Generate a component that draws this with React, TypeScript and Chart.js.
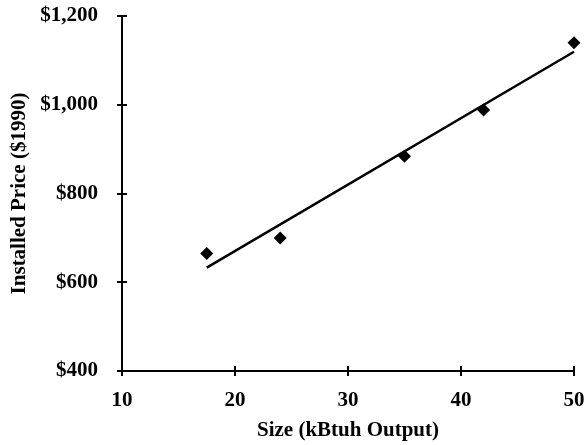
import React, { useEffect, useRef } from "react";
import { Chart, registerables } from "chart.js";

Chart.register(...registerables);

const sizes: number[] = [17.5, 24, 35, 42, 50];
const prices: number[] = [665, 700, 884, 988, 1140];
const xTicks: number[] = [10, 20, 30, 40, 50];
const yTicks: number[] = [400, 600, 800, 1000, 1200];
const xTitle = "Size (kBtuh Output)";
const yTitle = "Installed Price ($1990)";

function fitLine(xs: number[], ys: number[]) {
  const n = xs.length;
  const mx = xs.reduce((a, b) => a + b, 0) / n;
  const my = ys.reduce((a, b) => a + b, 0) / n;
  let sxy = 0, sxx = 0;
  for (let i = 0; i < n; i++) {
    sxy += (xs[i] - mx) * (ys[i] - my);
    sxx += (xs[i] - mx) * (xs[i] - mx);
  }
  const slope = sxy / sxx;
  const intercept = my - slope * mx;
  const x0 = Math.min(...xs), x1 = Math.max(...xs);
  return [
    { x: x0, y: intercept + slope * x0 },
    { x: x1, y: intercept + slope * x1 },
  ];
}

const FONT = "'Liberation Serif', 'Times New Roman', serif";

const crossTicks = {
  id: "crossTicks",
  afterDraw(chart: any) {
    const ctx = chart.ctx;
    const xs = chart.scales.x;
    const ys = chart.scales.y;
    const area = chart.chartArea;
    ctx.save();
    ctx.strokeStyle = "#000";
    ctx.lineWidth = 2;
    ctx.beginPath();
    ctx.moveTo(area.left, area.top);
    ctx.lineTo(area.left, area.bottom);
    ctx.lineTo(area.right, area.bottom);
    ctx.stroke();
    ctx.beginPath();
    for (const v of yTicks) {
      const py = Math.round(ys.getPixelForValue(v));
      ctx.moveTo(area.left - 5, py);
      ctx.lineTo(area.left + 5, py);
    }
    for (const v of xTicks) {
      const px = Math.round(xs.getPixelForValue(v));
      ctx.moveTo(px, area.bottom - 5);
      ctx.lineTo(px, area.bottom + 5);
    }
    ctx.stroke();
    ctx.restore();
  },
};

export default function App() {
  const ref = useRef<HTMLCanvasElement | null>(null);
  useEffect(() => {
    document.body.style.margin = "0";
    const canvas = ref.current;
    if (!canvas) return;
    const chart = new Chart(canvas, {
      type: "scatter",
      data: {
        datasets: [
          {
            type: "scatter",
            data: sizes.map((x, i) => ({ x, y: prices[i] })),
            pointStyle: "rectRot",
            pointRadius: 6.5,
            backgroundColor: "#000",
            borderColor: "#000",
            borderWidth: 0,
            clip: false,
          } as any,
          {
            type: "line",
            data: fitLine(sizes, prices),
            borderColor: "#000",
            borderWidth: 2.5,
            pointRadius: 0,
            fill: false,
            clip: false,
          } as any,
        ],
      },
      options: {
        animation: false,
        responsive: false,
        devicePixelRatio: 1,
        layout: { padding: { top: 16, right: 12, left: 0, bottom: 0 } },
        plugins: {
          legend: { display: false },
          tooltip: { enabled: false },
        },
        scales: {
          x: {
            type: "linear",
            min: 10,
            max: 50,
            afterBuildTicks: (s: any) => {
              s.ticks = xTicks.map((v) => ({ value: v }));
            },
            afterFit: (s: any) => {
              s.height = 74;
              s.paddingLeft = 0;
              s.paddingRight = 0;
            },
            grid: { display: false },
            border: { display: false },
            ticks: {
              color: "#000",
              padding: 9,
              font: { family: FONT, size: 21, weight: "bold" },
            },
            title: {
              display: true,
              text: xTitle,
              color: "#000",
              padding: { top: 0, bottom: 2 },
              font: { family: FONT, size: 21, weight: "bold" },
            },
          },
          y: {
            type: "linear",
            min: 400,
            max: 1200,
            afterBuildTicks: (s: any) => {
              s.ticks = yTicks.map((v) => ({ value: v }));
            },
            afterFit: (s: any) => {
              s.width = 122;
              s.paddingTop = 0;
              s.paddingBottom = 0;
            },
            grid: { display: false },
            border: { display: false },
            ticks: {
              color: "#000",
              padding: 16,
              font: { family: FONT, size: 21, weight: "bold" },
              callback: (v: any) => "$" + Number(v).toLocaleString("en-US"),
            },
            title: {
              display: true,
              text: yTitle,
              color: "#000",
              padding: { top: 7, bottom: 0 },
              font: { family: FONT, size: 21, weight: "bold" },
            },
          },
        },
      },
      plugins: [crossTicks],
    });
    return () => chart.destroy();
  }, []);
  return (
    <div style={{ width: 586, height: 445 }}>
      <canvas ref={ref} width={586} height={445} style={{ display: "block" }} />
    </div>
  );
}
